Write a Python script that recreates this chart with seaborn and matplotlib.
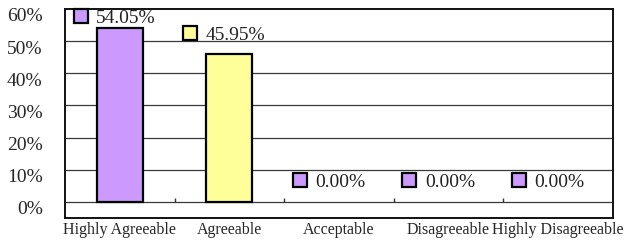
import numpy as np
import pandas as pd
import seaborn as sns
import matplotlib.pyplot as plt
from matplotlib.transforms import ScaledTranslation

# Survey results
categories = ["Highly Agreeable", "Agreeable", "Acceptable", "Disagreeable", "Highly Disagreeable"]
values = [0.5405, 0.4595, 0.0, 0.0, 0.0]
colors = ["#CC99FF", "#FFFF99", "#CC99FF", "#CC99FF", "#CC99FF"]
yticks = [0.0, 0.1, 0.2, 0.3, 0.4, 0.5, 0.6]
ytick_labels = ["0%", "10%", "20%", "30%", "40%", "50%", "60%"]

df = pd.DataFrame({"category": categories, "value": values})

sns.set_style("white")
plt.rcParams["font.family"] = ["Liberation Serif", "DejaVu Serif"]

fig = plt.figure(figsize=(6.43, 2.41), dpi=100)
ax = fig.add_axes([0.101, 0.0954, 0.852, 0.868])

sns.barplot(data=df, x="category", y="value", hue="category", palette=colors,
            legend=False, width=0.42, edgecolor="black", linewidth=1.6,
            saturation=1, ax=ax, zorder=3)
# empty bars get no outline
for p in ax.patches:
    if p.get_height() == 0:
        p.set_linewidth(0)

ax.set_xlim(-0.5, len(categories) - 0.5)
ax.set_ylim(-0.05, 0.6)

# gridlines
for y in yticks[:-1]:
    ax.axhline(y, color="#3a3a3a", lw=0.9, zorder=1)
# small category ticks on the 0% line
ax.vlines(np.arange(len(categories) - 1) + 0.5, 0, 0.013, color="#333333", lw=1.0, zorder=2)

ax.set_yticks(yticks)
ax.set_yticklabels(ytick_labels, fontsize=14)
ax.tick_params(axis="y", length=0, pad=16)
for lab in ax.get_yticklabels():
    lab.set_transform(lab.get_transform() + ScaledTranslation(0, -6 / 100, fig.dpi_scale_trans))

ax.set_xticks(range(len(categories)))
ax.set_xticklabels(categories, fontsize=11.5)
ax.tick_params(axis="x", length=0, pad=3)
ax.set_xlabel("")
ax.set_ylabel("")

for s in ax.spines.values():
    s.set_color("#111111")
    s.set_linewidth(1.4)

# data labels with legend key
for i, v in enumerate(values):
    ly = min(v + 0.045, 0.555)
    ax.plot([i], [ly], marker="s", markersize=10.5, markerfacecolor=colors[i],
            markeredgecolor="black", markeredgewidth=1.6, linestyle="none",
            transform=ax.transData + ScaledTranslation(-39 / 100, 7 / 100, fig.dpi_scale_trans),
            zorder=4, clip_on=False)
    ax.annotate(f"{v * 100:.2f}%", xy=(i, ly), xytext=(-17, 0), textcoords="offset points",
                ha="left", va="baseline", fontsize=14, color="#222222", zorder=5)

fig.savefig("out.png", dpi=100)
